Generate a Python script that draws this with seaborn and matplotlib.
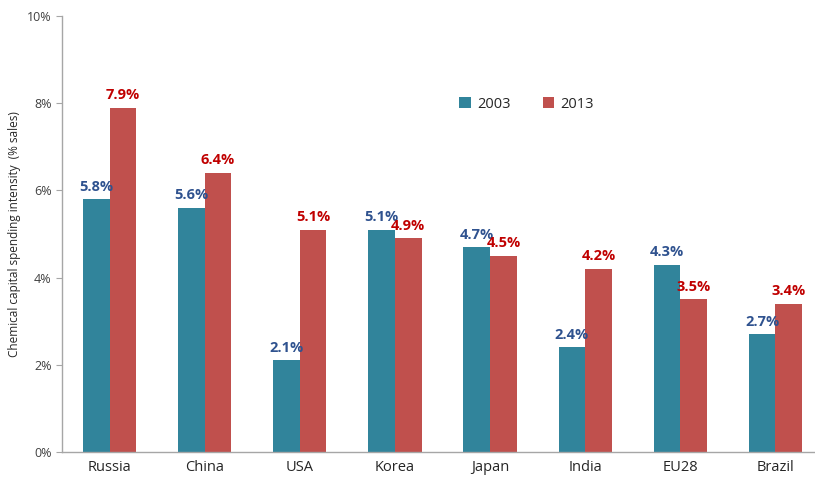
import pandas as pd
import matplotlib
matplotlib.use("Agg")
import matplotlib.pyplot as plt
from matplotlib.ticker import PercentFormatter
import seaborn as sns

# ----------------------------------------------------------
# DATA
# ----------------------------------------------------------

countries = ["Russia", "China", "USA", "Korea", "Japan", "India", "EU28", "Brazil"]
years = ["2003", "2013"]
share_2003 = [5.8, 5.6, 2.1, 5.1, 4.7, 2.4, 4.3, 2.7]
share_2013 = [7.9, 6.4, 5.1, 4.9, 4.5, 4.2, 3.5, 3.4]

df = pd.DataFrame({
    "Country": countries * 2,
    "Year": [years[0]] * len(countries) + [years[1]] * len(countries),
    "Share": share_2003 + share_2013,
})

bar_colors = {"2003": "#31849B", "2013": "#C0504D"}
label_colors = {"2003": "#2F528F", "2013": "#C00000"}

# ----------------------------------------------------------
# PLOT
# ----------------------------------------------------------

sns.set_style("white")
plt.rcParams["font.family"] = ["Open Sans", "DejaVu Sans"]

fig = plt.figure(figsize=(8.15, 4.8), dpi=100)
ax = fig.add_axes([62 / 815, 28 / 480, 761 / 815, 436 / 480])

sns.barplot(
    data=df, x="Country", y="Share", hue="Year",
    palette=bar_colors, width=0.56, gap=0, saturation=1,
    linewidth=0, edgecolor="none",
    ax=ax,
)

for container, yr in zip(ax.containers, years):
    ax.bar_label(
        container,
        labels=[f"{v:.1f}%" for v in container.datavalues],
        color=label_colors[yr], fontsize=10.5, fontweight="bold", padding=4,
    )

ax.set_ylim(0, 10)
ax.set_xlim(-0.5, 7.5)
ax.set_yticks([0, 2, 4, 6, 8, 10])
ax.yaxis.set_major_formatter(PercentFormatter(decimals=0))
ax.tick_params(axis="y", labelsize=9, labelcolor="#404040", length=4,
               left=True, color="#A6A6A6", width=0.8)
ax.tick_params(axis="x", labelsize=10.5, labelcolor="#262626", length=0, pad=6)
ax.set_xlabel("")
ax.set_ylabel("Chemical capital spending intensity  (% sales)",
              fontsize=8.5, color="#262626")

sns.despine(ax=ax, top=True, right=True)
for side in ["left", "bottom"]:
    ax.spines[side].set_color("#A6A6A6")
    ax.spines[side].set_linewidth(1)

leg = ax.legend(
    loc="upper left", bbox_to_anchor=(0.505, 0.845), ncol=2, frameon=False,
    fontsize=10.5, handlelength=0.8, handleheight=0.8, columnspacing=2.2,
    handletextpad=0.4,
)

fig.savefig("out.png", dpi=100)
